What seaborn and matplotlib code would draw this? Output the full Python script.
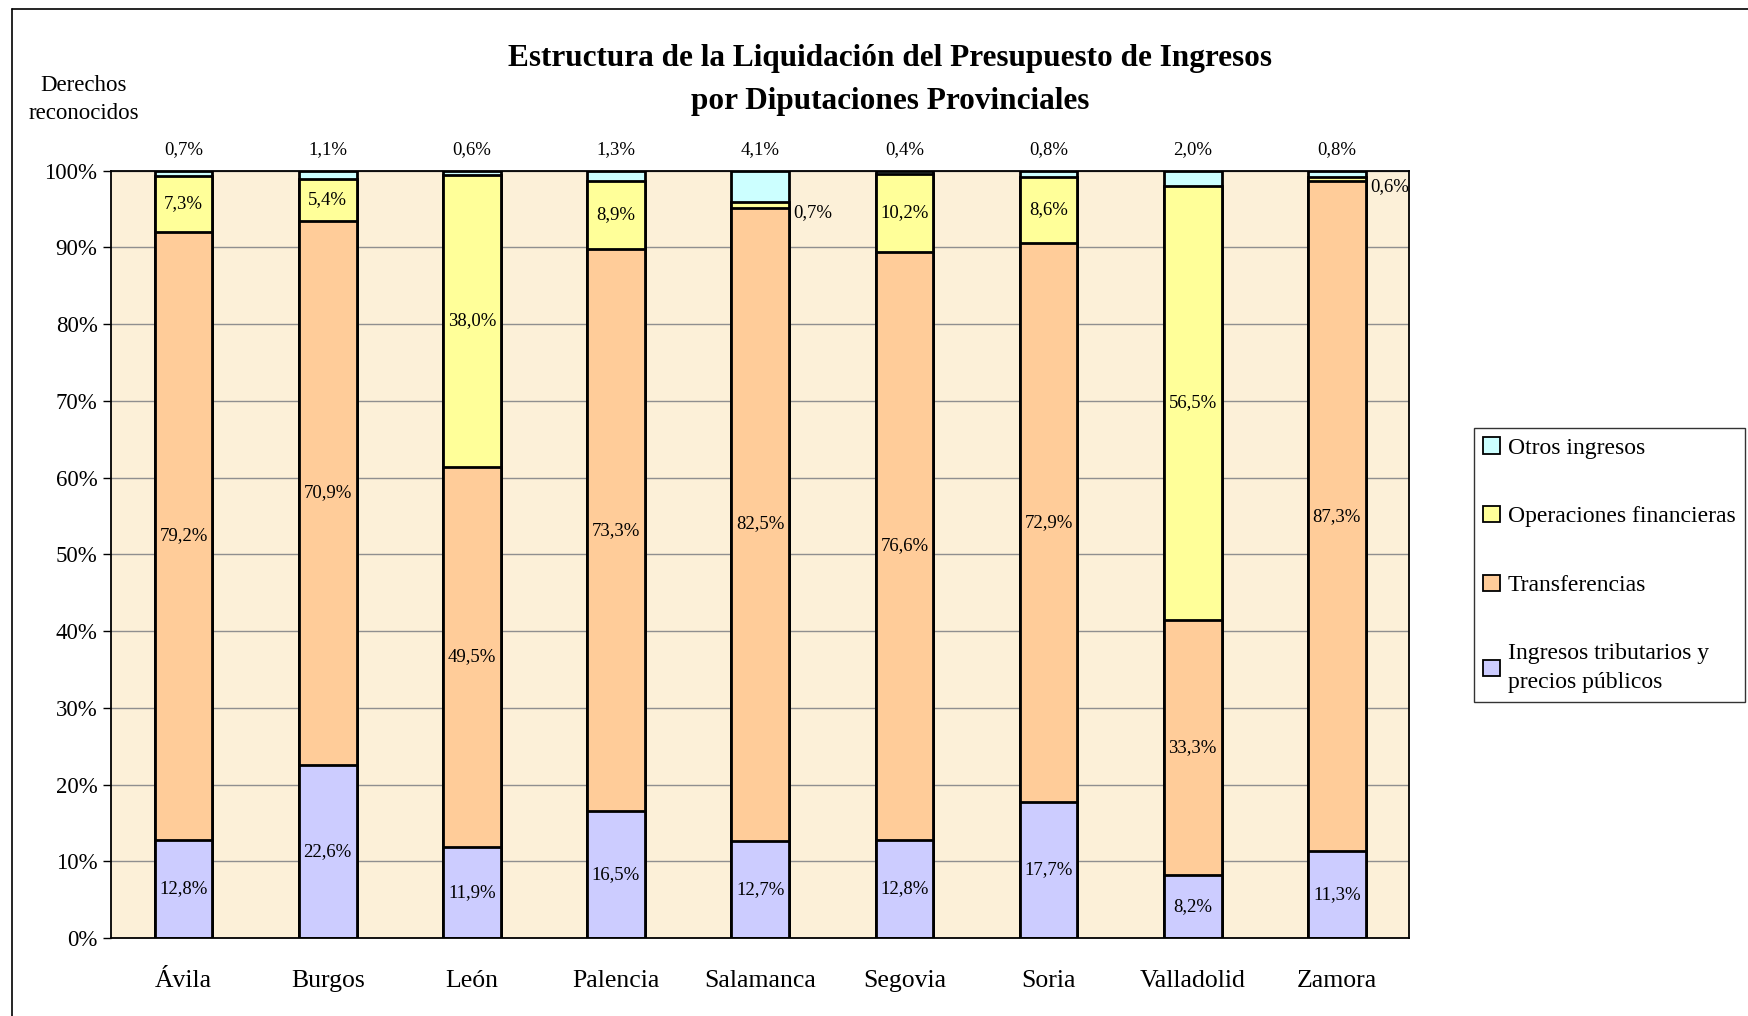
import numpy as np
import pandas as pd
import seaborn as sns
from matplotlib import pyplot as plt
from matplotlib.patches import Patch
from matplotlib.lines import Line2D

sns.set_style("white")
plt.rcParams['font.family'] = ['Liberation Serif', 'DejaVu Serif']
plt.rcParams['text.color'] = 'black'
plt.rcParams['xtick.color'] = 'black'
plt.rcParams['ytick.color'] = 'black'

provincias = ["Ávila", "Burgos", "León", "Palencia", "Salamanca",
              "Segovia", "Soria", "Valladolid", "Zamora"]
tributarios = [12.8, 22.6, 11.9, 16.5, 12.7, 12.8, 17.7, 8.2, 11.3]
transferencias = [79.2, 70.9, 49.5, 73.3, 82.5, 76.6, 72.9, 33.3, 87.3]
financieras = [7.3, 5.4, 38.0, 8.9, 0.7, 10.2, 8.6, 56.5, 0.6]
otros = [0.7, 1.1, 0.6, 1.3, 4.1, 0.4, 0.8, 2.0, 0.8]

series = ["Ingresos tributarios y\nprecios públicos", "Transferencias",
          "Operaciones financieras", "Otros ingresos"]
colores = ["#CCCCFF", "#FFCC99", "#FFFF99", "#CCFFFF"]

df = pd.DataFrame({"provincia": provincias,
                   series[0]: tributarios,
                   series[1]: transferencias,
                   series[2]: financieras,
                   series[3]: otros})
cum = df[series].cumsum(axis=1)


def fmt(v):
    return f"{v:.1f}%".replace(".", ",")


fig = plt.figure(figsize=(17.49, 10.16), dpi=100)
ax = fig.add_axes([0.0637, 0.0768, 0.7419, 0.7552])
ax.set_facecolor("#FCF0D8")

# stacked bars: draw cumulative totals from top to bottom
for s, c in reversed(list(zip(series, colores))):
    sns.barplot(x=df["provincia"], y=cum[s], color=c, saturation=1,
                edgecolor="black", linewidth=2, width=0.4, ax=ax, zorder=2)

# segment labels
for i in range(len(provincias)):
    base = 0
    for s in series[:3]:
        v = df.loc[i, s]
        mid = base + v / 2
        if v >= 2:
            ax.text(i, mid, fmt(v), ha="center", va="center", fontsize=13.5)
        else:
            ax.text(i + 0.23, mid - 1.0, fmt(v), ha="left",
                    va="center", fontsize=13.5)
        base += v
    ax.text(i, 102.7, fmt(df.loc[i, series[3]]), ha="center", va="center",
            fontsize=13.5)

ax.set_ylim(0, 100)
ax.set_xlim(-0.5, len(provincias) - 0.5)
ax.set_yticks(np.arange(0, 101, 10))
ax.set_yticklabels([f"{t}%" for t in range(0, 101, 10)], fontsize=16.5)
ax.yaxis.grid(True, color="#8f8f8f", linewidth=1)
ax.set_axisbelow(True)
ax.set_xticks(range(len(provincias)))
ax.set_xticklabels(provincias, fontsize=18.5)
ax.set_xticks(np.arange(-0.5, len(provincias), 1), minor=True)
ax.tick_params(axis="x", which="major", length=0, pad=23)
ax.tick_params(axis="x", which="minor", length=9, width=1, color="black",
               direction="out")
ax.tick_params(axis="y", length=6, width=1, color="black", direction="out",
               left=True, pad=4)
ax.set_xlabel("")
ax.set_ylabel("")
for sp in ax.spines.values():
    sp.set_color("black")
    sp.set_linewidth(1.3)

fig.text(0.509, 0.942, "Estructura de la Liquidación del Presupuesto de Ingresos",
         ha="center", va="center", fontsize=22.5, fontweight="bold")
fig.text(0.509, 0.9, "por Diputaciones Provinciales",
         ha="center", va="center", fontsize=22.5, fontweight="bold")
fig.text(0.048, 0.902, "Derechos\nreconocidos", ha="center", va="center",
         fontsize=16.5, linespacing=1.45)

handles = [Patch(facecolor=c, edgecolor="black", linewidth=1.3, label=s)
           for s, c in reversed(list(zip(series, colores)))]
leg = fig.legend(handles=handles, loc="upper left",
                 bbox_to_anchor=(0.8425, 0.579), fontsize=17,
                 frameon=True, fancybox=False, edgecolor="black",
                 handlelength=0.7, handleheight=0.7, handletextpad=0.35,
                 labelspacing=2.0, borderpad=0.4, borderaxespad=0)
leg.get_frame().set_linewidth(1)
for t in leg.get_texts():
    t.set_linespacing(1.45)

# outer chart frame
fig.add_artist(Line2D([0.0069, 0.0069], [0, 0.991], color="black",
                      linewidth=1.2, transform=fig.transFigure))
fig.add_artist(Line2D([0.0069, 1], [0.991, 0.991], color="black",
                      linewidth=1.2, transform=fig.transFigure))

fig.savefig("out.png", dpi=100)
